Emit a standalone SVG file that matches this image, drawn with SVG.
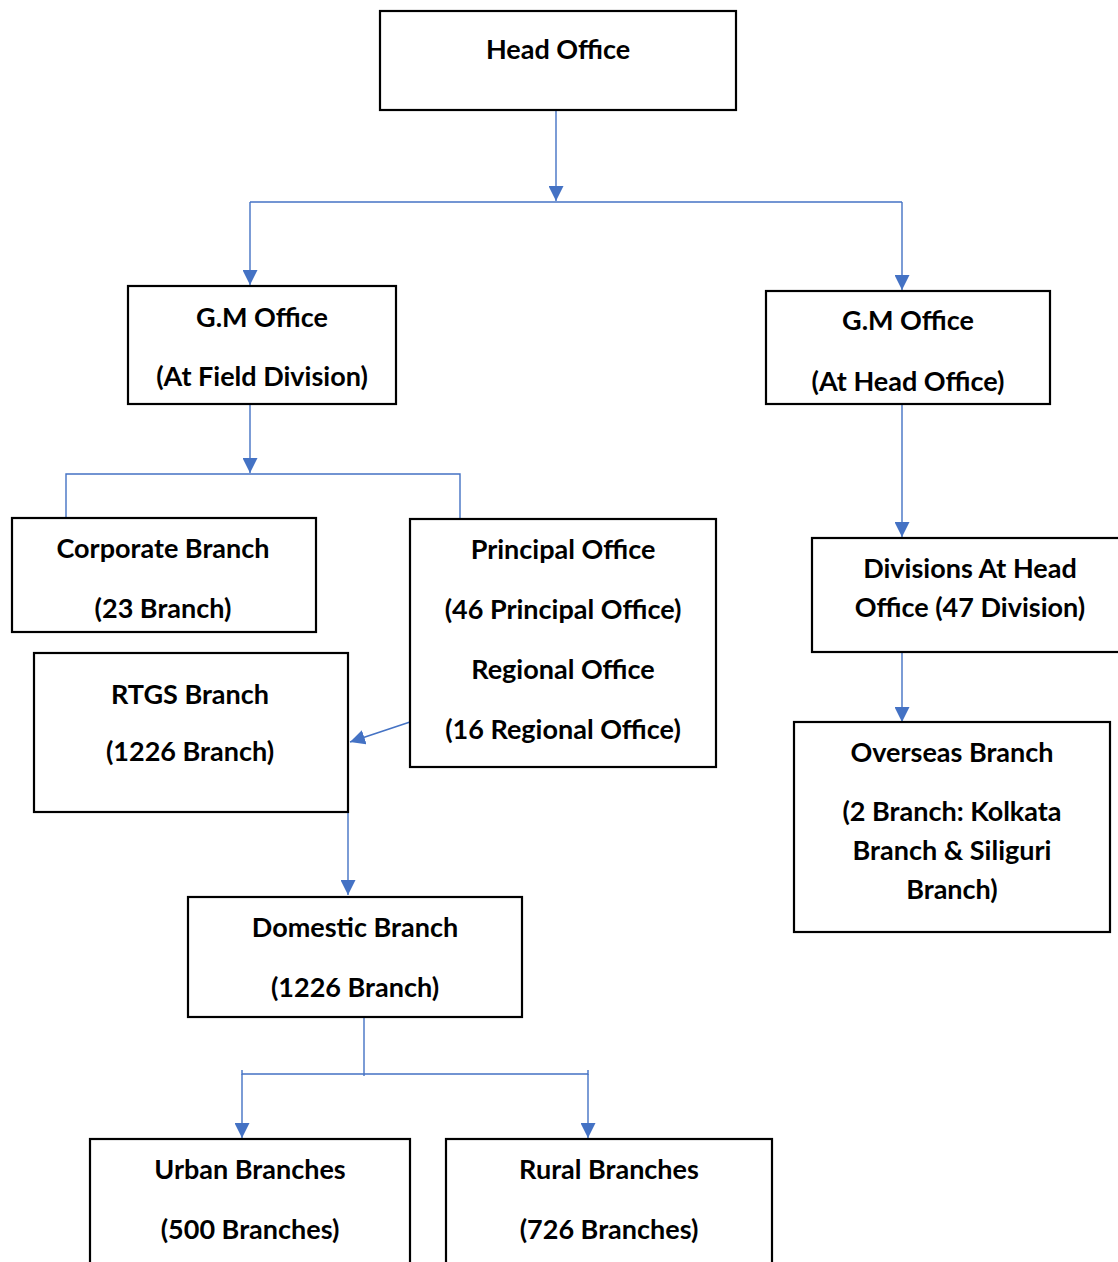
<svg xmlns="http://www.w3.org/2000/svg" width="1118" height="1262" viewBox="0 0 1118 1262">
<style>
.box{fill:#fff;stroke:#000;stroke-width:2.2}
.t{font-family:Lato,"Open Sans","Liberation Sans",sans-serif;font-weight:bold;font-size:27px;fill:#000;text-anchor:middle}
.c{fill:none;stroke:#4472C4;stroke-width:1.4}
</style>
<defs>
<marker id="ah" viewBox="0 0 10 10" refX="10" refY="5" markerWidth="15" markerHeight="15" markerUnits="userSpaceOnUse" orient="auto">
<path d="M0,0 L10,5 L0,10 z" fill="#4472C4"/>
</marker>
</defs>
<g id="connectors">
<path class="c" d="M556,110 V201" marker-end="url(#ah)"/>
<path class="c" d="M250,202 H902"/>
<path class="c" d="M250,202 V285" marker-end="url(#ah)"/>
<path class="c" d="M902,202 V290" marker-end="url(#ah)"/>
<path class="c" d="M250,404 V473" marker-end="url(#ah)"/>
<path class="c" d="M66,517 V474 H460 V518"/>
<path class="c" d="M410,722 L350,742" marker-end="url(#ah)"/>
<path class="c" d="M348,805 V895" marker-end="url(#ah)"/>
<path class="c" d="M364,1017 V1076"/>
<path class="c" d="M242,1070 V1074 H588 V1070"/>
<path class="c" d="M242,1074 V1138" marker-end="url(#ah)"/>
<path class="c" d="M588,1074 V1138" marker-end="url(#ah)"/>
<path class="c" d="M902,404 V537" marker-end="url(#ah)"/>
<path class="c" d="M902,652 V722" marker-end="url(#ah)"/>
</g>
<g id="head-office"><rect class="box" x="380" y="11" width="356" height="99"/><text class="t" x="558" y="59">Head Office</text></g>
<g id="gm-field"><rect class="box" x="128" y="286" width="268" height="118"/><text class="t" x="262" y="327">G.M Office</text><text class="t" x="262" y="386">(At Field Division)</text></g>
<g id="gm-head"><rect class="box" x="766" y="291" width="284" height="113"/><text class="t" x="908" y="330">G.M Office</text><text class="t" x="908" y="391">(At Head Office)</text></g>
<g id="corporate"><rect class="box" x="12" y="518" width="304" height="114"/><text class="t" x="163" y="558">Corporate Branch</text><text class="t" x="163" y="618">(23 Branch)</text></g>
<g id="principal"><rect class="box" x="410" y="519" width="306" height="248"/><text class="t" x="563" y="559">Principal Office</text><text class="t" x="563" y="619">(46 Principal Office)</text><text class="t" x="563" y="679">Regional Office</text><text class="t" x="563" y="739">(16 Regional Office)</text></g>
<g id="rtgs"><rect class="box" x="34" y="653" width="314" height="159"/><text class="t" x="190" y="704">RTGS Branch</text><text class="t" x="190" y="761">(1226 Branch)</text></g>
<g id="domestic"><rect class="box" x="188" y="897" width="334" height="120"/><text class="t" x="355" y="937">Domestic Branch</text><text class="t" x="355" y="997">(1226 Branch)</text></g>
<g id="urban"><rect class="box" x="90" y="1139" width="320" height="140"/><text class="t" x="250" y="1179">Urban Branches</text><text class="t" x="250" y="1239">(500 Branches)</text></g>
<g id="rural"><rect class="box" x="446" y="1139" width="326" height="140"/><text class="t" x="609" y="1179">Rural Branches</text><text class="t" x="609" y="1239">(726 Branches)</text></g>
<g id="divisions"><rect class="box" x="812" y="538" width="320" height="114"/><text class="t" x="970" y="578">Divisions At Head</text><text class="t" x="970" y="617">Office (47 Division)</text></g>
<g id="overseas"><rect class="box" x="794" y="722" width="316" height="210"/><text class="t" x="952" y="762">Overseas Branch</text><text class="t" x="952" y="821">(2 Branch: Kolkata</text><text class="t" x="952" y="860">Branch &amp; Siliguri</text><text class="t" x="952" y="899">Branch)</text></g>
</svg>
